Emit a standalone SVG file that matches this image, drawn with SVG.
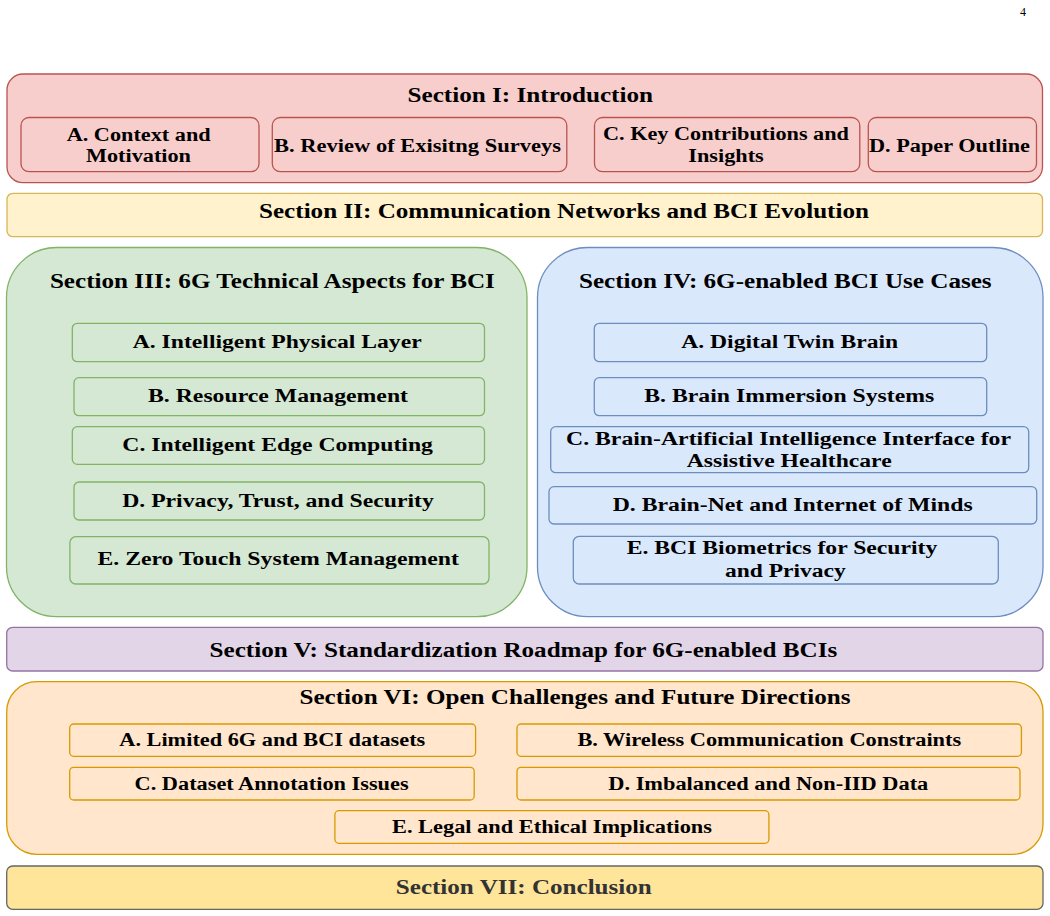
<svg xmlns="http://www.w3.org/2000/svg" width="1050" height="916" viewBox="0 0 1050 916">
<style>
text{font-family:"Liberation Serif","Times New Roman",serif;font-weight:bold;fill:#000;text-anchor:middle}
.t{font-size:20px}
.s{font-size:18.5px}
.v{font-size:18px}
.red{fill:#f8cecc;stroke:#b85450;stroke-width:1.3}
.yel{fill:#fff2cc;stroke:#d6b656;stroke-width:1.3}
.grn{fill:#d5e8d4;stroke:#82b366;stroke-width:1.3}
.blu{fill:#dae8fc;stroke:#6c8ebf;stroke-width:1.3}
.pur{fill:#e1d5e7;stroke:#9673a6;stroke-width:1.3}
.org{fill:#ffe6cc;stroke:#d79b00;stroke-width:1.3}
.gld{fill:#ffe599;stroke:#666666;stroke-width:1.3}
</style>
<rect width="1050" height="916" fill="#fff"/>
<text x="1023" y="16" style="font-size:12px;font-weight:normal" fill="#333">4</text>

<g id="sec1">
<rect class="red" x="7" y="74" width="1035.5" height="108.7" rx="16"/>
<text class="t" x="530.3" y="101.5" textLength="245.5" lengthAdjust="spacingAndGlyphs">Section I: Introduction</text>
</g>
<g id="sec1a"><rect class="red" x="21" y="117.5" width="238" height="54.2" rx="8"/><text class="s" x="138.7" y="140.5" textLength="144" lengthAdjust="spacingAndGlyphs">A. Context and</text><text class="s" x="138.5" y="161.7" textLength="105" lengthAdjust="spacingAndGlyphs">Motivation</text></g>
<g id="sec1b"><rect class="red" x="272.3" y="117.5" width="294.5" height="54.2" rx="8"/><text class="s" x="417.5" y="151.5" textLength="287" lengthAdjust="spacingAndGlyphs">B. Review of Exisitng Surveys</text></g>
<g id="sec1c"><rect class="red" x="594.5" y="117.5" width="265.3" height="54.2" rx="8"/><text class="s" x="726" y="140" textLength="246" lengthAdjust="spacingAndGlyphs">C. Key Contributions and</text><text class="s" x="726" y="161.7" textLength="75.5" lengthAdjust="spacingAndGlyphs">Insights</text></g>
<g id="sec1d"><rect class="red" x="868.3" y="117.5" width="168.2" height="54.2" rx="8"/><text class="s" x="949.5" y="151.5" textLength="161" lengthAdjust="spacingAndGlyphs">D. Paper Outline</text></g>

<g id="sec2">
<rect class="yel" x="7" y="193.3" width="1035.5" height="43.4" rx="6"/>
<text class="t" x="564" y="218.3" textLength="610" lengthAdjust="spacingAndGlyphs">Section II: Communication Networks and BCI Evolution</text>
</g>

<g id="sec3">
<rect class="grn" x="6.5" y="247.5" width="520.5" height="369.2" rx="50"/>
<text class="t" x="272.4" y="287.7" textLength="445" lengthAdjust="spacingAndGlyphs">Section III: 6G Technical Aspects for BCI</text>
</g>
<g id="sec3a"><rect class="grn" x="72.3" y="323.3" width="412.2" height="38.4" rx="5"/><text class="s" x="277.2" y="348.3" textLength="289" lengthAdjust="spacingAndGlyphs">A. Intelligent Physical Layer</text></g>
<g id="sec3b"><rect class="grn" x="74" y="377.7" width="410.5" height="38" rx="5"/><text class="s" x="278" y="402.3" textLength="260" lengthAdjust="spacingAndGlyphs">B. Resource Management</text></g>
<g id="sec3c"><rect class="grn" x="72.3" y="426.7" width="412.2" height="37.6" rx="5"/><text class="s" x="277.6" y="451" textLength="310.6" lengthAdjust="spacingAndGlyphs">C. Intelligent Edge Computing</text></g>
<g id="sec3d"><rect class="grn" x="74" y="482" width="410.5" height="38" rx="5"/><text class="s" x="278" y="506.7" textLength="311.6" lengthAdjust="spacingAndGlyphs">D. Privacy, Trust, and Security</text></g>
<g id="sec3e"><rect class="grn" x="69.9" y="536.7" width="419.1" height="47.3" rx="6"/><text class="s" x="278.2" y="565" textLength="361.5" lengthAdjust="spacingAndGlyphs">E. Zero Touch System Management</text></g>

<g id="sec4">
<rect class="blu" x="537.5" y="247.5" width="505.5" height="369.2" rx="50"/>
<text class="t" x="785.3" y="288" textLength="412.7" lengthAdjust="spacingAndGlyphs">Section IV: 6G-enabled BCI Use Cases</text>
</g>
<g id="sec4a"><rect class="blu" x="594.3" y="323.3" width="392.4" height="38.4" rx="5"/><text class="s" x="789.7" y="348.3" textLength="217" lengthAdjust="spacingAndGlyphs">A. Digital Twin Brain</text></g>
<g id="sec4b"><rect class="blu" x="594.3" y="377.7" width="392.4" height="38" rx="5"/><text class="s" x="789.3" y="402.3" textLength="290" lengthAdjust="spacingAndGlyphs">B. Brain Immersion Systems</text></g>
<g id="sec4c"><rect class="blu" x="550.7" y="426.7" width="478" height="46" rx="5"/><text class="s" x="788.5" y="444.5" textLength="445" lengthAdjust="spacingAndGlyphs">C. Brain-Artificial Intelligence Interface for</text><text class="s" x="789.2" y="466.7" textLength="205" lengthAdjust="spacingAndGlyphs">Assistive Healthcare</text></g>
<g id="sec4d"><rect class="blu" x="549" y="486.7" width="487.7" height="37.3" rx="5"/><text class="s" x="792.7" y="510.7" textLength="360" lengthAdjust="spacingAndGlyphs">D. Brain-Net and Internet of Minds</text></g>
<g id="sec4e"><rect class="blu" x="573.3" y="536.3" width="425" height="47.7" rx="6"/><text class="s" x="782" y="554.3" textLength="310.7" lengthAdjust="spacingAndGlyphs">E. BCI Biometrics for Security</text><text class="s" x="785.3" y="576.7" textLength="120.7" lengthAdjust="spacingAndGlyphs">and Privacy</text></g>

<g id="sec5">
<rect class="pur" x="6.7" y="627.3" width="1036.3" height="43.7" rx="6"/>
<text class="t" x="523.4" y="656.7" textLength="627.6" lengthAdjust="spacingAndGlyphs">Section V: Standardization Roadmap for 6G-enabled BCIs</text>
</g>

<g id="sec6">
<rect class="org" x="6.7" y="681.7" width="1036.3" height="172.6" rx="30"/>
<text class="t" x="575" y="704" textLength="551" lengthAdjust="spacingAndGlyphs">Section VI: Open Challenges and Future Directions</text>
</g>
<g id="sec6a"><rect class="org" x="69.7" y="724" width="405.9" height="32.3" rx="4"/><text class="v" x="272.3" y="746" textLength="306" lengthAdjust="spacingAndGlyphs">A. Limited 6G and BCI datasets</text></g>
<g id="sec6b"><rect class="org" x="517" y="724" width="504.4" height="32.3" rx="4"/><text class="v" x="769.3" y="746" textLength="383.8" lengthAdjust="spacingAndGlyphs">B. Wireless Communication Constraints</text></g>
<g id="sec6c"><rect class="org" x="69.7" y="767.3" width="404.5" height="32.7" rx="4"/><text class="v" x="271.6" y="790" textLength="274" lengthAdjust="spacingAndGlyphs">C. Dataset Annotation Issues</text></g>
<g id="sec6d"><rect class="org" x="517" y="767.3" width="503" height="32.7" rx="4"/><text class="v" x="768.3" y="790" textLength="320" lengthAdjust="spacingAndGlyphs">D. Imbalanced and Non-IID Data</text></g>
<g id="sec6e"><rect class="org" x="334.9" y="810.7" width="434" height="32.6" rx="4"/><text class="v" x="552" y="833.3" textLength="320" lengthAdjust="spacingAndGlyphs">E. Legal and Ethical Implications</text></g>

<g id="sec7">
<rect class="gld" x="6.7" y="866" width="1036.3" height="43.3" rx="6"/>
<text class="t" x="523.8" y="894" textLength="256" lengthAdjust="spacingAndGlyphs" style="fill:#333">Section VII: Conclusion</text>
</g>
<g id="connectors"/>
</svg>
